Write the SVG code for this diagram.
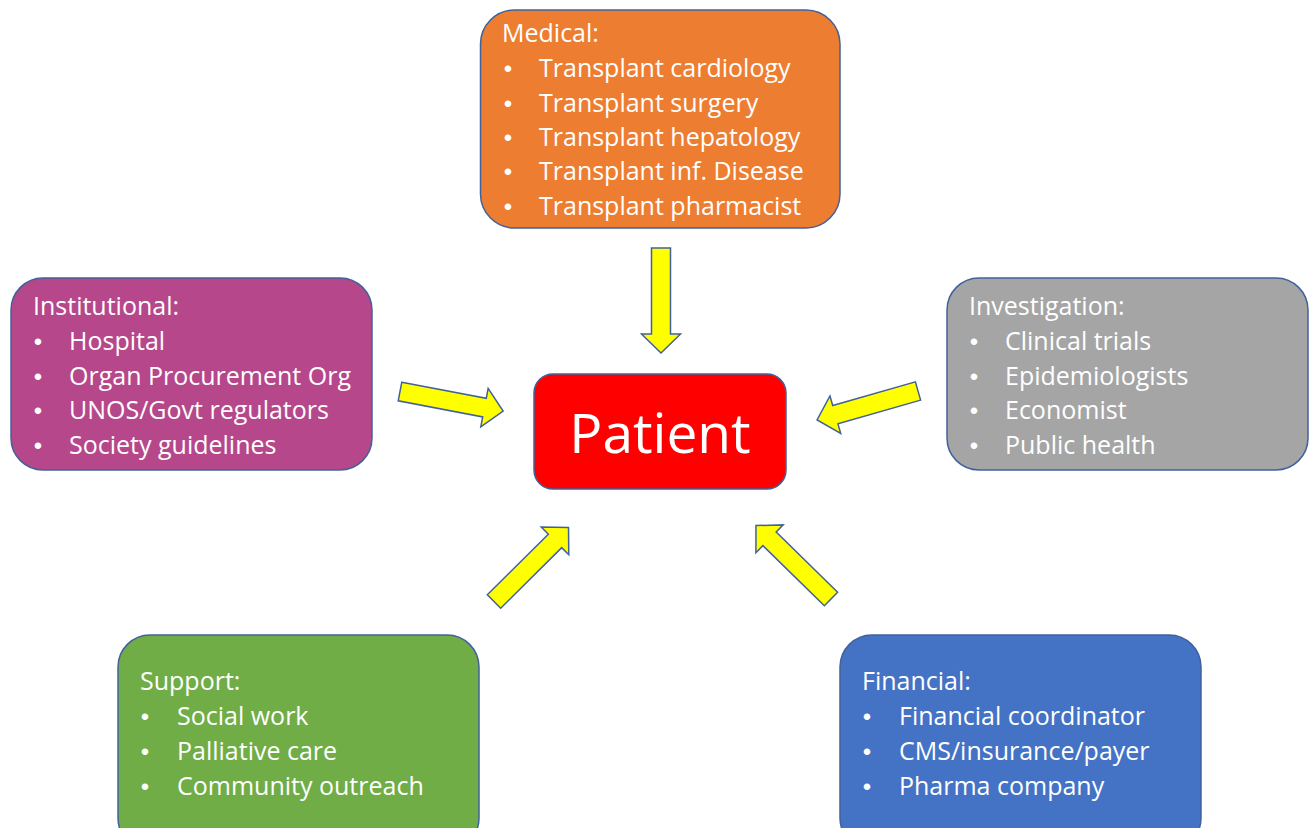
<svg xmlns="http://www.w3.org/2000/svg" width="1309" height="828" viewBox="0 0 1309 828">
<style>
.box{stroke:#41619A;stroke-width:1.5}
.t{font-family:"Open Sans","Liberation Sans",sans-serif;font-size:25px;fill:#FFFFFF}
.b{font-family:"Liberation Sans",sans-serif;font-size:24px;fill:#FFFFFF;text-anchor:middle}
.arr{fill:#FFFF00;stroke:#41619A;stroke-width:1.5;stroke-linejoin:miter}
</style>
<defs>
<polygon id="arrow" points="0,-9.5 86,-9.5 86,-19.5 105,0 86,19.5 86,9.5 0,9.5"/>
</defs>
<rect width="1309" height="828" fill="#FFFFFF"/>
<g id="medical">
<rect class="box" x="480.5" y="10" width="359.5" height="218" rx="34" fill="#ED7D31"/>
<text class="t" x="502" y="42">Medical:</text>
<text class="b" x="508" y="77">•</text><text class="t" x="539" y="77">Transplant cardiology</text>
<text class="b" x="508" y="111.5">•</text><text class="t" x="539" y="111.5">Transplant surgery</text>
<text class="b" x="508" y="146">•</text><text class="t" x="539" y="146">Transplant hepatology</text>
<text class="b" x="508" y="180">•</text><text class="t" x="539" y="180">Transplant inf. Disease</text>
<text class="b" x="508" y="214.5">•</text><text class="t" x="539" y="214.5">Transplant pharmacist</text>
</g>
<g id="institutional">
<rect class="box" x="11" y="278" width="361" height="192" rx="32" fill="#B6478B"/>
<text class="t" x="33" y="315">Institutional:</text>
<text class="b" x="38" y="350">•</text><text class="t" x="69" y="350">Hospital</text>
<text class="b" x="38" y="384.5">•</text><text class="t" x="69" y="384.5">Organ Procurement Org</text>
<text class="b" x="38" y="419">•</text><text class="t" x="69" y="419">UNOS/Govt regulators</text>
<text class="b" x="38" y="453.5">•</text><text class="t" x="69" y="453.5">Society guidelines</text>
</g>
<g id="investigation">
<rect class="box" x="947" y="278" width="361" height="192" rx="32" fill="#A5A5A5"/>
<text class="t" x="969" y="315">Investigation:</text>
<text class="b" x="974" y="350">•</text><text class="t" x="1005" y="350">Clinical trials</text>
<text class="b" x="974" y="384.5">•</text><text class="t" x="1005" y="384.5">Epidemiologists</text>
<text class="b" x="974" y="419">•</text><text class="t" x="1005" y="419">Economist</text>
<text class="b" x="974" y="453.5">•</text><text class="t" x="1005" y="453.5">Public health</text>
</g>
<g id="patient">
<rect class="box" x="534" y="374" width="252" height="115" rx="19" fill="#FF0000"/>
<text x="660" y="453" text-anchor="middle" style="font-family:'Open Sans','Liberation Sans',sans-serif;font-size:55px;fill:#FFFFFF">Patient</text>
</g>
<g id="support">
<rect class="box" x="118" y="635" width="361" height="215" rx="32" fill="#70AD47"/>
<text class="t" x="140" y="690">Support:</text>
<text class="b" x="145" y="725">•</text><text class="t" x="177" y="725">Social work</text>
<text class="b" x="145" y="760">•</text><text class="t" x="177" y="760">Palliative care</text>
<text class="b" x="145" y="795">•</text><text class="t" x="177" y="795">Community outreach</text>
</g>
<g id="financial">
<rect class="box" x="840" y="635" width="361" height="215" rx="32" fill="#4472C4"/>
<text class="t" x="862" y="690">Financial:</text>
<text class="b" x="867" y="725">•</text><text class="t" x="899" y="725">Financial coordinator</text>
<text class="b" x="867" y="760">•</text><text class="t" x="899" y="760">CMS/insurance/payer</text>
<text class="b" x="867" y="795">•</text><text class="t" x="899" y="795">Pharma company</text>
</g>
<g id="connectors">
<use href="#arrow" class="arr" transform="translate(661,248) rotate(90)"/>
<use href="#arrow" class="arr" transform="translate(400,391.5) rotate(10.8)"/>
<use href="#arrow" class="arr" transform="translate(918,391) rotate(164)"/>
<use href="#arrow" class="arr" transform="translate(494,601.5) rotate(-44.8)"/>
<use href="#arrow" class="arr" transform="translate(831,599) rotate(-135.6)"/>
</g>
</svg>
